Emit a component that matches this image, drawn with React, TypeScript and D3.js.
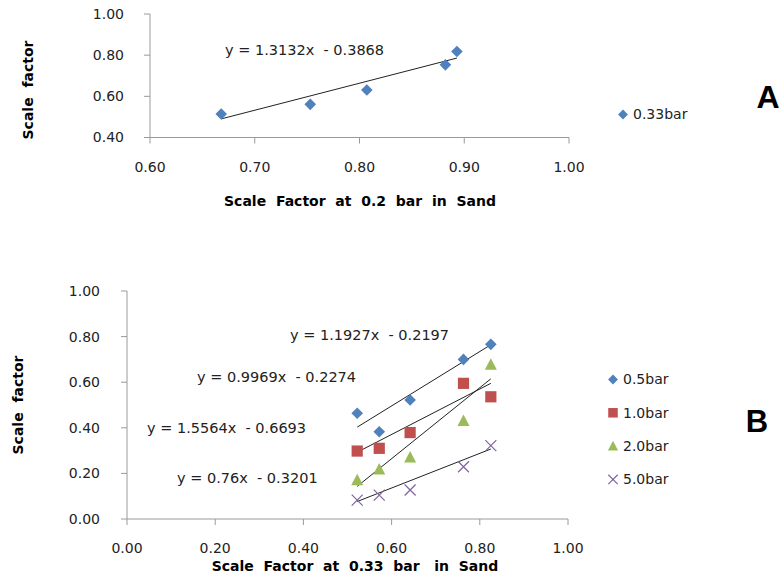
import React from "react";
import * as d3 from "d3";

// Panel A: scale factor at 0.33 bar vs scale factor at 0.2 bar
const topX = [0.668, 0.753, 0.807, 0.882, 0.893];
const topY = [0.514, 0.561, 0.631, 0.753, 0.818];
const topFit = { slope: 1.3132, intercept: -0.3868, label: "y = 1.3132x  - 0.3868" };
const topXTicks = [0.6, 0.7, 0.8, 0.9, 1.0];
const topYTicks = [0.4, 0.6, 0.8, 1.0];

// Panel B: scale factor at higher pressures vs scale factor at 0.33 bar
const bottomX = [0.522, 0.572, 0.642, 0.763, 0.825];
const bar05 = [0.464, 0.383, 0.522, 0.700, 0.766];
const bar10 = [0.298, 0.310, 0.379, 0.595, 0.536];
const bar20 = [0.171, 0.218, 0.271, 0.431, 0.678];
const bar50 = [0.083, 0.105, 0.127, 0.229, 0.322];
const seriesNames = ["0.5bar", "1.0bar", "2.0bar", "5.0bar"];
const slopes = [1.1927, 0.9969, 1.5564, 0.76];
const intercepts = [-0.2197, -0.2274, -0.6693, -0.3201];
const fitLabels = [
  "y = 1.1927x  - 0.2197",
  "y = 0.9969x  - 0.2274",
  "y = 1.5564x  - 0.6693",
  "y = 0.76x  - 0.3201",
];
const bottomTicks = [0, 0.2, 0.4, 0.6, 0.8, 1.0];

const colors = ["#4F81BD", "#C0504D", "#9BBB59", "#8064A2"];
const shapes = ["diamond", "square", "triangle", "x"];
const labelPos = [
  { x: 290, y: 335 },
  { x: 197, y: 377 },
  { x: 147, y: 428 },
  { x: 177, y: 478 },
];

const FONT = "'DejaVu Sans', sans-serif";
const AXIS = "#9a9a9a";
const TEXT = "#222";

function Marker({ shape, x, y, color, k = 1 }: { shape: string; x: number; y: number; color: string; k?: number }) {
  const p = d3.path();
  if (shape === "diamond") {
    const r = 5.8 * k;
    p.moveTo(x, y - r); p.lineTo(x + r, y); p.lineTo(x, y + r); p.lineTo(x - r, y); p.closePath();
    return <path d={p.toString()} fill={color} />;
  }
  if (shape === "square") {
    const h = 5.6 * k;
    return <rect x={x - h} y={y - h} width={2 * h} height={2 * h} fill={color} />;
  }
  if (shape === "triangle") {
    const w = 6 * k, h = 10.5 * k;
    p.moveTo(x, y - h / 2 - 1); p.lineTo(x + w, y + h / 2); p.lineTo(x - w, y + h / 2); p.closePath();
    return <path d={p.toString()} fill={color} />;
  }
  const r = 5.5 * k;
  p.moveTo(x - r, y - r); p.lineTo(x + r, y + r);
  p.moveTo(x + r, y - r); p.lineTo(x - r, y + r);
  return <path d={p.toString()} stroke={color} strokeWidth={1.2} fill="none" />;
}

export default function App() {
  // Panel A scales
  const xA = d3.scaleLinear().domain([0.6, 1.0]).range([150, 569]);
  const yA = d3.scaleLinear().domain([0.4, 1.0]).range([137.5, 14]);
  // Panel B scales
  const xB = d3.scaleLinear().domain([0, 1]).range([127, 568]);
  const yB = d3.scaleLinear().domain([0, 1]).range([519, 291]);
  const fmt = d3.format(".2f");

  const bSeries = [bar05, bar10, bar20, bar50];
  const xMinB = d3.min(bottomX) as number;
  const xMaxB = d3.max(bottomX) as number;
  const xMinA = d3.min(topX) as number;
  const xMaxA = d3.max(topX) as number;

  const txt = { fontFamily: FONT, fontSize: 14, fill: TEXT, whiteSpace: "pre" as const };
  const eq = { fontFamily: FONT, fontSize: 14.5, fill: TEXT, whiteSpace: "pre" as const };
  const bold = { fontFamily: FONT, fontSize: 14, fontWeight: 700, fill: "#000", whiteSpace: "pre" as const };

  return (
    <svg width={783} height={581} style={{ position: "absolute", left: 0, top: 0, background: "#fff" }}>
      {/* Panel A */}
      <g>
        <line x1={xA(0.6)} x2={xA(0.6)} y1={yA(1.0)} y2={yA(0.4)} stroke={AXIS} />
        <line x1={xA(0.6)} x2={xA(1.0)} y1={yA(0.4)} y2={yA(0.4)} stroke={AXIS} />
        {topYTicks.map((t) => (
          <g key={"ay" + t}>
            <line x1={xA(0.6) - 6} x2={xA(0.6)} y1={yA(t)} y2={yA(t)} stroke={AXIS} />
            <text x={124} y={yA(t)} dy="0.35em" textAnchor="end" style={txt}>{fmt(t)}</text>
          </g>
        ))}
        {topXTicks.map((t) => (
          <g key={"ax" + t}>
            <line x1={xA(t)} x2={xA(t)} y1={yA(0.4)} y2={yA(0.4) + 6} stroke={AXIS} />
            <text x={xA(t)} y={167} dy="0.35em" textAnchor="middle" style={txt}>{fmt(t)}</text>
          </g>
        ))}
        <text x={360} y={201} dy="0.35em" textAnchor="middle" style={bold}>
          {"Scale  Factor  at  0.2  bar  in  Sand"}
        </text>
        <text transform="translate(28,90) rotate(-90)" dy="0.35em" textAnchor="middle" style={bold}>
          {"Scale  factor"}
        </text>
        <line
          x1={xA(xMinA)} y1={yA(topFit.slope * xMinA + topFit.intercept)}
          x2={xA(xMaxA)} y2={yA(topFit.slope * xMaxA + topFit.intercept)}
          stroke="#222" strokeWidth={1}
        />
        {topX.map((x, i) => (
          <Marker key={"a" + i} shape="diamond" x={xA(x)} y={yA(topY[i])} color={colors[0]} />
        ))}
        <text x={225} y={50} dy="0.35em" style={eq}>{topFit.label}</text>
        <Marker shape="diamond" x={623} y={114.5} color={colors[0]} k={0.85} />
        <text x={633} y={114.5} dy="0.35em" style={txt}>0.33bar</text>
        <text x={768} y={108} textAnchor="middle"
          style={{ fontFamily: "'Liberation Sans', Arial, sans-serif", fontSize: 32, fontWeight: 700, fill: "#000" }}>A</text>
      </g>

      {/* Panel B */}
      <g>
        <line x1={xB(0)} x2={xB(0)} y1={yB(1)} y2={yB(0)} stroke={AXIS} />
        <line x1={xB(0)} x2={xB(1)} y1={yB(0)} y2={yB(0)} stroke={AXIS} />
        {bottomTicks.map((t) => (
          <g key={"by" + t}>
            <line x1={xB(0) - 6} x2={xB(0)} y1={yB(t)} y2={yB(t)} stroke={AXIS} />
            <text x={100} y={yB(t)} dy="0.35em" textAnchor="end" style={txt}>{fmt(t)}</text>
          </g>
        ))}
        {bottomTicks.map((t) => (
          <g key={"bx" + t}>
            <line x1={xB(t)} x2={xB(t)} y1={yB(0)} y2={yB(0) + 6} stroke={AXIS} />
            <text x={xB(t)} y={548} dy="0.35em" textAnchor="middle" style={txt}>{fmt(t)}</text>
          </g>
        ))}
        <text x={355} y={566} dy="0.35em" textAnchor="middle" style={bold}>
          {"Scale  Factor  at  0.33  bar   in  Sand"}
        </text>
        <text transform="translate(18,405) rotate(-90)" dy="0.35em" textAnchor="middle" style={bold}>
          {"Scale  factor"}
        </text>
        {slopes.map((m, i) => (
          <line key={"fit" + i}
            x1={xB(xMinB)} y1={yB(m * xMinB + intercepts[i])}
            x2={xB(xMaxB)} y2={yB(m * xMaxB + intercepts[i])}
            stroke="#222" strokeWidth={1}
          />
        ))}
        {bSeries.map((vals, s) =>
          vals.map((v, i) => (
            <Marker key={"b" + s + "-" + i} shape={shapes[s]} x={xB(bottomX[i])} y={yB(v)} color={colors[s]} />
          ))
        )}
        {fitLabels.map((l, i) => (
          <text key={"fl" + i} x={labelPos[i].x} y={labelPos[i].y} dy="0.35em" style={eq}>{l}</text>
        ))}
        {seriesNames.map((n, i) => (
          <g key={"lg" + i}>
            <Marker shape={shapes[i]} x={613} y={379.5 + i * 33.3} color={colors[i]} k={0.85} />
            <text x={623} y={379.5 + i * 33.3} dy="0.35em" style={txt}>{n}</text>
          </g>
        ))}
        <text x={757} y={431.5} textAnchor="middle"
          style={{ fontFamily: "'Liberation Sans', Arial, sans-serif", fontSize: 31, fontWeight: 700, fill: "#000" }}>B</text>
      </g>
    </svg>
  );
}
